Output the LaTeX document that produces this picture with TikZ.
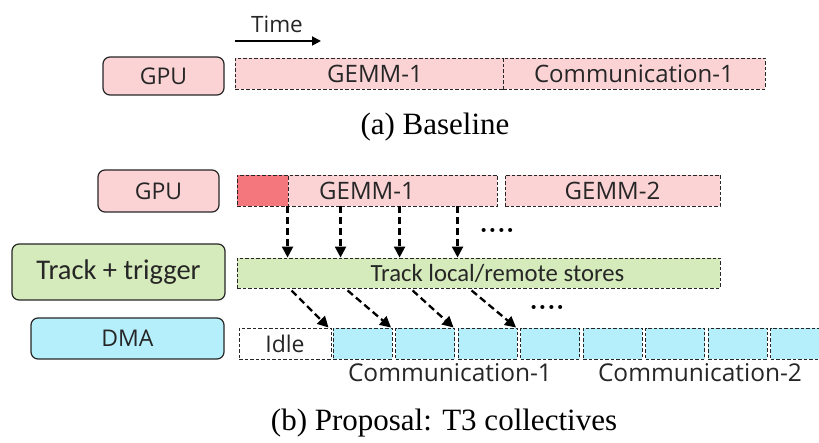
\documentclass[tikz,border=0pt]{standalone}
\usepackage{fontspec}
\usepackage{xcolor}
\usepackage{tikz}
\usetikzlibrary{arrows.meta}

\newfontfamily\uifont{Open Sans}
\newfontfamily\calfont{Carlito}
\newfontfamily\capfont{Liberation Serif}

\definecolor{gpupink}{HTML}{FBD3D5}
\definecolor{gemmred}{HTML}{F4777D}
\definecolor{trackgreen}{HTML}{D6EBBB}
\definecolor{dmacyan}{HTML}{B6EFFC}
\definecolor{inktext}{HTML}{262626}

\tikzset{
  unitbox/.style={draw=black!85, line width=1.2pt, rounded corners=7pt,
    text=inktext, inner sep=0pt},
  slot/.style={draw=black!85, line width=0.9pt, dash pattern=on 3.5pt off 2pt,
    inner sep=0pt, text=inktext},
  flow/.style={line width=2.3pt, dash pattern=on 7pt off 4pt,
    -{Triangle[length=11pt, width=11pt]}},
  ui/.style={font=\uifont\fontsize{#1}{#1}\selectfont},
  ui/.default=23,
}

\begin{document}
\begin{tikzpicture}[x=1pt, y=-1pt]
  \useasboundingbox (0,0) rectangle (819,443);

  % ---- (a) baseline ----
  \coordinate (t0) at (235,41);
  \coordinate (t1) at (321,41);
  \draw[line width=1.8pt, -{Triangle[length=9pt, width=9pt]}] (t0) -- (t1);
  \node[text=inktext, ui=22.5] (time) at (277,24) {Time};

  \node[unitbox, fill=gpupink, minimum width=121pt, minimum height=38pt, ui]
    (gpuA) at (163.5,76) {GPU};
  \node[slot, fill=gpupink, minimum width=268pt, minimum height=31pt, ui=24]
    (gemmA) at (369,73.5) {\hspace*{12pt}GEMM-1};
  \node[slot, fill=gpupink, minimum width=262pt, minimum height=31pt, ui=24]
    (commA) at (634,73.5) {Communication-1};
  \node[font=\capfont\fontsize{31}{33}\selectfont] (capA) at (435,127) {(a) Baseline};

  % ---- (b) proposal ----
  \node[unitbox, fill=gpupink, minimum width=121pt, minimum height=42pt, ui]
    (gpuB) at (158.5,191) {GPU};
  \node[slot, fill=gpupink, minimum width=260pt, minimum height=31pt, ui=24]
    (gemm1B) at (367,190.5) {GEMM-1};
  \node[slot, fill=gemmred, minimum width=51pt, minimum height=31pt]
    (warm) at (262.5,190.5) {};
  \node[slot, fill=gpupink, minimum width=215pt, minimum height=31pt, ui=24]
    (gemm2B) at (612.5,190.5) {GEMM-2};

  \node[unitbox, fill=trackgreen, minimum width=213pt, minimum height=56pt,
    font=\calfont\fontsize{28.5}{30}\selectfont] (trackbox) at (118.5,272) {Track + trigger};
  \node[slot, fill=trackgreen, minimum width=483pt, minimum height=30pt]
    (trackbar) at (478.5,273) {};
  \node[text=inktext, font=\calfont\fontsize{24.7}{26}\selectfont]
    (tracktext) at ([xshift=19]trackbar.center) {Track local/remote stores};

  \node[unitbox, fill=dmacyan, minimum width=193pt, minimum height=41pt, ui]
    (dma) at (127.5,338.5) {DMA};
  \node[slot, fill=white, minimum width=92pt, minimum height=31pt, ui]
    (idle) at (285,343.5) {Idle};
  \foreach \i in {0,...,7}
    \node[slot, fill=dmacyan, minimum width=59pt, minimum height=31pt]
      (c\i) at (362.5+62.5*\i,343.5) {};

  \node[text=inktext, ui=24.5] (comm1) at (450,373) {Communication-1};
  \node[text=inktext, ui=24.5] (comm2) at (700,373) {Communication-2};

  % stores seen by the tracker
  \foreach \i/\d in {0/51,1/104,2/163,3/221} {
    \coordinate (s\i) at ([xshift=\d]gemm1B.south west);
    \draw[flow] (s\i) -- (s\i |- trackbar.north);
  }
  \node[font=\bfseries\fontsize{28}{28}\selectfont] (dotsA) at (497,230) {....};

  % triggered DMA transfers
  \foreach \i/\d in {0/55,1/111,2/176,3/235} {
    \coordinate (r\i) at ([xshift=\d, yshift=-2]trackbar.south west);
    \draw[flow] (r\i) -- ([xshift=-4]c\i.north west);
  }
  \node[font=\bfseries\fontsize{28}{28}\selectfont] (dotsB) at (547,307) {....};

  \node[font=\capfont\fontsize{31}{33}\selectfont] (capB) at (444,423) {(b) Proposal: T3 collectives};
\end{tikzpicture}
\end{document}
